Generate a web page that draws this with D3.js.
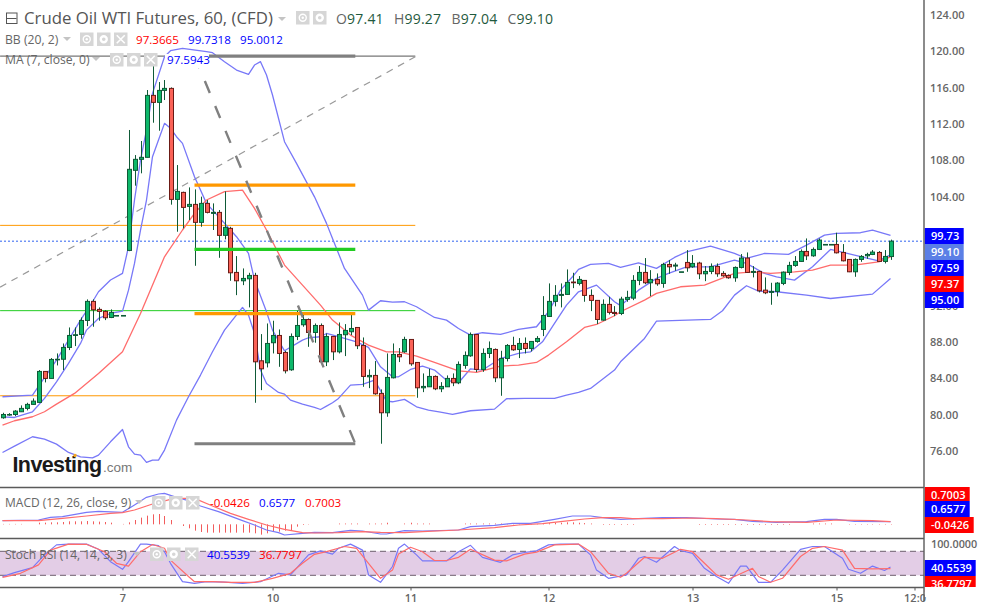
<!DOCTYPE html>
<html>
<head>
<meta charset="utf-8">
<script src="https://cdn.jsdelivr.net/npm/d3@7"></script>
<style>
  html, body { margin: 0; padding: 0; background: #fff; }
  svg { display: block; }
  text { font-family: "Open Sans", "Noto Sans", sans-serif; }
</style>
</head>
<body>
<div id="canvas"></div>
<script>
"use strict"

/* candles, one per hour */
const opens = [79.66,80.00,80.02,80.32,80.69,81.13,81.35,84.76,83.99,86.08,
86.10,87.40,88.72,88.83,90.37,92.47,91.59,91.37,90.70,90.92,
90.92,98.08,106.90,108.11,108.33,115.15,114.38,115.70,115.92,103.70,
104.47,102.93,103.15,101.17,103.26,102.16,102.27,99.74,100.51,95.66,
94.74,94.96,95.33,85.93,85.71,87.92,88.72,86.85,84.94,88.61,
89.90,90.48,89.05,89.82,85.82,88.61,86.92,88.80,89.13,89.60,
87.62,84.17,84.32,82.34,80.21,84.06,86.63,86.92,88.28,85.75,
82.96,83.07,84.21,82.85,83.07,83.99,83.51,85.42,86.48,88.83,
84.98,86.74,87.18,84.06,86.19,87.62,87.18,87.84,87.29,88.06,
89.38,90.81,92.47,93.13,93.24,94.60,94.45,94.78,93.13,92.58,
90.41,92.14,91.26,91.14,92.69,92.83,94.78,95.66,94.52,94.89,
94.45,96.54,96.36,95.73,96.76,96.28,96.69,95.51,95.77,96.32,
95.55,95.33,95.07,96.21,97.24,95.66,95.77,93.71,93.46,93.57,
94.45,95.66,96.43,96.87,97.97,97.49,98.19,98.74,98.74,98.74,
97.86,97.09,95.73,97.09,97.49,97.64,97.86,96.87,97.41];
const highs = [80.21,80.17,80.50,81.02,81.31,81.79,84.91,84.76,86.23,86.74,
87.84,89.60,89.60,90.70,92.69,92.69,91.81,91.51,91.59,90.92,
90.92,111.34,108.58,110.13,115.74,119.59,116.62,116.84,116.03,107.48,
104.55,105.02,104.80,104.00,103.63,103.26,102.53,104.58,100.68,97.46,
96.10,95.62,95.62,88.87,90.04,90.34,89.38,87.03,88.94,91.44,
91.14,90.59,90.04,90.04,88.94,88.61,90.15,89.97,91.14,89.60,
88.50,84.98,85.90,82.78,86.74,87.84,87.33,88.58,88.28,85.75,
84.54,85.05,84.32,83.58,84.32,84.54,85.86,86.96,89.05,88.83,
87.29,88.06,87.29,87.03,87.77,88.58,88.43,88.50,88.06,88.65,
93.05,94.45,94.26,94.45,95.99,95.62,95.26,94.78,93.79,92.58,
92.69,92.98,91.95,92.98,93.64,95.36,96.36,97.24,95.91,95.55,
96.72,97.02,96.72,95.73,98.12,97.57,96.83,96.36,96.65,96.65,
95.80,95.44,96.32,97.68,97.86,96.36,95.84,95.11,94.52,94.59,
95.77,96.83,97.46,98.19,99.40,98.41,99.40,98.74,98.74,100.03,
98.78,97.09,97.20,97.57,97.82,98.12,98.01,98.12,99.27];
const lows = [79.55,79.88,79.84,80.32,80.47,81.09,81.31,83.55,83.99,85.42,
84.91,87.11,87.55,88.36,89.75,89.68,90.34,90.41,90.63,90.92,
90.92,98.00,105.21,106.57,108.33,112.14,111.26,114.64,103.12,100.14,
100.51,101.43,96.39,100.69,102.16,100.33,97.27,99.30,94.74,93.16,
94.26,91.81,81.31,82.70,85.20,86.74,85.27,84.54,84.83,88.21,
89.68,87.47,87.92,85.57,85.35,86.01,86.74,86.45,88.76,87.22,
83.07,82.92,82.19,76.80,79.77,83.99,85.79,86.81,85.38,81.86,
82.48,83.07,82.70,82.48,83.07,83.14,83.36,85.05,86.37,84.69,
84.72,86.23,83.58,82.08,85.86,87.03,86.23,86.74,86.96,87.92,
88.65,90.78,91.92,91.81,93.20,93.93,94.23,92.43,91.40,89.97,
90.34,91.03,90.85,90.96,92.43,92.61,94.26,94.37,93.05,94.19,
93.97,95.51,95.84,95.73,95.73,96.17,94.92,94.70,95.47,95.18,
95.18,94.96,94.63,96.10,95.62,95.11,93.46,93.27,92.10,93.02,
94.26,95.36,96.28,96.83,97.02,97.38,98.12,98.74,98.74,97.75,
96.87,95.69,95.18,96.83,97.16,97.57,96.80,96.65,97.04];
const closes = [80.02,80.02,80.39,80.69,81.13,81.49,84.76,83.99,86.08,86.10,
87.40,88.72,88.80,90.37,92.47,91.55,91.37,90.67,91.26,90.92,
90.92,107.01,108.11,108.33,115.15,114.38,115.70,115.92,103.70,104.58,
102.82,103.15,101.17,103.26,102.27,102.27,99.74,100.62,95.62,94.74,
95.00,95.33,85.82,85.05,87.84,88.72,86.74,84.83,88.61,89.82,
90.48,89.05,89.82,85.82,88.61,86.92,88.83,89.27,89.49,87.59,
84.21,84.32,82.30,80.21,84.10,86.63,86.37,88.28,85.60,82.96,
83.11,84.21,82.85,83.11,83.99,83.51,85.53,86.52,88.83,84.98,
86.74,87.29,84.06,86.19,87.62,87.14,87.84,87.29,88.06,88.39,
90.92,92.47,93.13,93.24,94.56,94.52,94.89,93.13,92.58,90.48,
92.14,91.26,91.14,92.72,92.91,94.78,95.66,94.52,94.89,94.41,
96.54,96.28,96.47,95.73,96.17,96.65,95.51,95.77,96.32,95.51,
95.29,95.07,96.21,97.24,95.66,95.77,93.64,93.42,93.57,94.48,
95.69,96.43,96.87,97.97,97.49,98.19,99.22,98.74,98.74,97.82,
96.94,95.73,97.09,97.42,97.64,97.90,96.87,97.42,99.10];

/* bollinger upper, read at the candle numbers in upperIdx */
const upperIdx = [0,5,9,13,15,16,18,20,21,22,23,24,25,27,28,30,34,35,37,39,41,42,43,44,45,47,49,52,54,55,57,60,61,63,65,67,69,72,74,76,78,80,83,86,89,91,93,95,96,98,101,103,106,109,112,114,118,122,124,127,131,134,137,139,143,145,148];
const upperVal = [81.97,82.15,86.0,90.41,92.43,93.53,94.82,95.55,98.49,103.63,108.03,111.34,115.37,119.41,120.07,120.33,119.96,119.85,118.86,117.94,117.47,118.49,118.86,117.39,115.19,110.05,107.67,103.98,101.06,99.40,96.10,93.16,91.51,92.54,92.39,92.43,91.88,90.70,90.41,89.49,88.76,89.02,88.83,89.38,89.68,91.33,93.71,95.18,95.99,96.54,96.65,96.21,96.72,96.10,97.31,97.93,98.56,97.75,97.20,97.75,97.64,98.67,99.77,99.95,100.03,100.32,99.73];

/* bollinger lower */
const lowerIdx = [0,2,5,7,9,11,13,15,16,18,20,21,22,23,24,25,26,27,29,31,33,35,37,40,41,42,43,44,46,47,48,50,52,53,54,55,56,58,60,62,64,65,67,69,71,73,75,78,82,84,87,92,94,96,98,100,102,103,107,109,118,120,122,124,126,129,134,138,145,148];
const lowerVal = [75.84,76.54,77.57,77.31,76.76,75.84,75.36,75.25,75.55,77.01,78.37,76.46,75.66,75.55,74.74,75.0,75.0,76.10,79.40,81.97,84.36,86.92,89.31,91.81,90.96,88.94,84.91,83.44,82.45,82.26,81.60,81.16,80.80,80.57,80.94,81.31,81.79,83.25,83.33,83.80,81.49,81.42,81.68,80.87,80.50,80.28,80.03,80.43,80.61,81.75,81.79,81.79,82.15,82.45,82.89,83.91,84.91,85.82,88.39,90.30,90.48,91.44,93.16,94.19,93.60,93.53,93.16,92.79,93.27,95.0];

/* bollinger basis, the red line */
const basisIdx = [0,2,5,7,9,12,16,20,23,27,30,32,34,37,40,42,44,47,50,53,55,58,61,64,66,69,72,76,79,83,86,89,91,94,97,99,102,103,107,109,113,117,122,125,128,132,135,138,142,146,148];
const basisVal = [78.85,79.33,79.77,80.32,81.16,82.34,84.54,86.92,91.14,97.38,100.33,102.16,103.63,104.55,104.73,102.71,100.33,96.47,94.26,92.06,90.41,88.76,87.66,86.92,86.92,86.45,85.75,84.83,84.65,85.35,85.46,85.75,86.56,88.02,89.60,89.93,90.89,91.33,92.61,93.35,94.08,94.26,95.55,95.73,95.55,95.73,95.92,96.47,96.47,96.83,97.37];

/* MA 7, the middle blue line */
const maIdx = [0,2,5,7,9,11,13,14,16,18,20,21,22,23,24,25,26,27,28,29,30,32,34,36,38,39,41,42,44,45,47,50,51,53,54,56,59,61,63,65,66,68,70,72,74,76,78,80,83,86,88,90,92,94,96,99,102,103,106,109,111,114,118,122,124,127,129,132,135,138,142,146,148];
const maVal = [79.76,79.69,80.32,81.79,83.62,85.64,87.84,89.31,90.59,91.14,91.40,93.71,96.65,100.32,103.63,108.40,110.24,112.07,111.52,110.60,109.87,106.20,103.26,101.80,100.33,99.59,97.75,94.82,91.33,89.31,87.03,88.21,88.47,88.58,88.94,88.58,88.02,87.40,85.27,84.17,84.17,84.98,85.35,84.91,83.80,83.51,85.05,84.91,86.19,86.74,86.92,88.02,90.04,92.06,93.53,94.26,92.43,92.0,93.71,95.0,95.55,96.28,96.28,97.02,96.65,95.55,95.18,94.81,96.28,98.19,97.57,96.94,97.59];

/* MACD pane */
const macdIdx = [0,6,8,10,14,16,20,22,24,26,27,29,31,33,36,40,42,44,46,47,50,52,55,58,60,63,64,67,70,76,78,82,85,88,92,95,98,100,103,106,110,114,119,122,125,129,134,137,139,142,148];
const macdVal = [.92,1.08,1.75,1.92,3.0,3.25,3.0,4.83,6.75,7.58,7.75,6.75,5.92,4.58,3.17,.92,-.17,-1.42,-2.08,-2.67,-2.25,-2,-2.08,-1.5,-1.67,-2.42,-2.42,-1.58,-1.67,-1.42,-.58,-.25,.25,.25,1.25,2.08,2.08,1.67,1.25,1.42,1.67,1.67,1.33,1.25,.75,.5,.67,1.25,1.25,.75,.66];
const signalIdx = [0,6,10,14,18,20,22,25,28,30,32,35,38,41,44,47,50,52,56,60,63,67,70,76,82,86,90,93,97,100,103,105,110,115,119,124,128,134,139,145,148];
const signalVal = [.92,.92,1.5,2.08,2.75,2.92,3.58,5.08,6.25,6.5,6.5,4.58,2.75,1.25,-.17,-1.25,-2.08,-2.17,-2.08,-1.83,-2,-2.08,-1.83,-1.42,-.83,-.17,.17,.67,1.33,1.67,1.67,1.42,1.42,1.58,1.42,1.08,.67,.5,1.08,.92,.70];
const histVal = [.1,.1,.1,.1,0,0,.42,.42,.5,.5,.58,.75,.75,.75,.83,.75,.67,.58,.42,0,
.1,.5,1.08,1.67,2.17,2.5,2.58,2.08,1.08,0,
-.42,-1,-1.58,-1.92,-2.08,-2.08,-2.08,-2.08,-2.08,-2.08,-2.08,-2.08,-2.25,-2.58,-2.25,-1.92,-1.83,-1.58,-1.42,-.58,-.17,-.08,
0,0,0,0,.2,.2,.2,.2,0,.2,.2,.2,.4,0,0,.2,.4,.2,.2,.2,0,0,0,0,0,
.2,.2,.2,.2,.2,.2,.2,.1,.1,.1,.1,.1,.1,
.25,.3,.4,.4,.5,.5,.4,.3,.2,0,
-.15,-.15,-.15,-.15,-.15,-.15,0,0,0,0,0,0,0,0,0,0,
-.15,-.15,-.15,-.15,-.15,-.15,-.15,-.15,-.15,-.15,-.15,-.15,-.15,-.15,-.15,-.15,
0,0,0,.2,.2,.2,.2,0,0,-.1,-.1,-.1,-.1,-.1,-.1,-.1,-.1];

/* stochastic RSI pane */
const stochKIdx = [0,2,5,7,9,11,14,16,18,20,21,23,24,26,27,28,30,32,34,37,40,43,46,48,51,53,55,56,58,60,61,63,65,66,67,69,70,74,76,78,80,83,85,87,89,91,93,96,98,99,101,104,106,107,109,112,113,115,117,119,121,123,124,126,128,130,133,135,137,140,141,143,145,147,148];
const stochKVal = [16.7,26.7,39,71,96,98,98,85,54,35,54,98,98,94,79,50,4,0,4,3,0,4,25,21,71,81,73,87.5,98,83,21,2.5,42,87.5,98,71,56,56,79,95,65,52.5,71,77,81,96,98,98,71,33,12.5,21,62.5,67,52.5,92,82,75,37.5,17,0,43,43,2.5,2.5,33,85,92,92,62.5,35,25,43,32,40.55];
const stochDIdx = [0,3,6,8,11,14,17,19,21,23,25,27,28,31,32,35,38,42,45,48,50,52,54,57,59,61,63,65,66,68,70,72,74,76,78,82,84,87,89,92,96,98,101,103,104,107,110,113,115,117,119,121,125,126,128,130,133,135,137,140,142,145,148];
const stochDVal = [15,25,46,83,98,97.5,79,50,43,79,97,87.5,58,17,4,4,2.5,2.5,12.5,25,50,72.5,79,92,87.5,50,12.5,33,73,90,79,57,57,65,85,58,56,73,78,96,98,79,25,15,25,65,62.5,85,79,50,21,10,37.5,17,2.5,12.5,67,87.5,92,83,37.5,36,36.78];

/* levels and drawings on the price pane */
const priceTicks = [124,120,116,112,108,104,92,88,84,80,76];
const thinLevels = [{p: 100.84, c: "#ff9800", w: 1}, {p: 91.45, c: "#22cc22", w: 1}, {p: 82.08, c: "#ff9800", w: 1}, {p: 119.48, c: "#777", w: 1.2}];
const fibLevels = [{p: 119.48, c: "#808080"}, {p: 105.28, c: "#ff9800"}, {p: 98.2, c: "#22cc22"}, {p: 91.12, c: "#ff9800"}, {p: 76.8, c: "#808080"}];
const trendStart = [-0.4, 94.04], trendEnd = [68.8, 119.4];
const fibDiagStart = [32, 119.48], fibDiagEnd = [58.8, 76.8];
const fibFrom = 32, fibTo = 58.8, thinTo = 68.8, thinFrom = -0.4;
const lastPrice = 99.1;

/* time axis */
const timeIdx = [20, 45, 68, 91, 115, 139, 152];
const timeLabels = ["7", "10", "11", "12", "13", "15", "12:0"];

const svg = d3.select("#canvas").append("svg").attr("width", 981).attr("height", 604);

const x = d3.scaleLinear().domain([0, 148]).range([2.5, 890.5]);
const y = d3.scaleLinear().domain([124, 76]).range([15, 451]);
const yMacd = d3.scaleLinear().domain([0, 7.75]).range([524.33, 493.33]);
const yStoch = d3.scaleLinear().domain([0, 100]).range([583.3, 543.3]);

const AXIS_X = 924;
const BLUE_LINE = "#7878f8", RED_LINE = "#ff6c6c";

function drawLine(idx, vals, scale, color, width) {
    let line = d3.line().x((d, i) => x(idx[i])).y(d => scale(d));
    svg.append("path").datum(vals)
        .attr("d", line)
        .attr("fill", "none")
        .attr("stroke", color)
        .attr("stroke-width", width)
        .attr("stroke-linejoin", "round");
}

function hLine(x1, x2, yy, color, width, dash) {
    svg.append("line")
        .attr("x1", x1).attr("x2", x2)
        .attr("y1", yy).attr("y2", yy)
        .attr("stroke", color)
        .attr("stroke-width", width)
        .attr("stroke-dasharray", dash || null);
}

function label(txt, px, py, size, color, weight) {
    return svg.append("text")
        .attr("x", px).attr("y", py)
        .attr("font-size", size)
        .attr("fill", color)
        .attr("font-weight", weight || 400)
        .text(txt);
}

/* letter in grey, number in dark green, as in the O H L C row */
function ohlc(letter, value, px) {
    let t = svg.append("text").attr("x", px).attr("y", 24).attr("font-size", 14).attr("letter-spacing", 0.2);
    t.append("tspan").attr("fill", "#666").text(letter);
    t.append("tspan").attr("fill", "#1f5a3e").text(value);
}

function triangle(px, py) {
    svg.append("path")
        .attr("d", `M${px},${py}h8l-4,4z`)
        .attr("fill", "#c4c4c4");
}

/* the grey eye, gear and cross buttons of each legend row */
function button(px, py, kind) {
    let s = 13.5;
    svg.append("rect").attr("x", px).attr("y", py).attr("width", s).attr("height", s).attr("fill", "#d6d6d6");
    let cx = px + s / 2, cy = py + s / 2;
    if (kind == "eye") {
        svg.append("circle").attr("cx", cx).attr("cy", cy).attr("r", 3.5).attr("fill", "none").attr("stroke", "#fff").attr("stroke-width", 1.4);
        svg.append("circle").attr("cx", cx).attr("cy", cy).attr("r", 1.2).attr("fill", "#fff");
    } else if (kind == "gear") {
        svg.append("circle").attr("cx", cx).attr("cy", cy).attr("r", 3).attr("fill", "none").attr("stroke", "#fff").attr("stroke-width", 2.4);
    } else {
        svg.append("path").attr("d", `M${cx-4},${cy-4}L${cx+4},${cy+4}M${cx+4},${cy-4}L${cx-4},${cy+4}`).attr("stroke", "#fff").attr("stroke-width", 1.6);
    }
}

/* stoch band goes under everything */
svg.append("rect")
    .attr("x", 0).attr("width", AXIS_X)
    .attr("y", yStoch(80)).attr("height", yStoch(20) - yStoch(80))
    .attr("fill", "#e3cde6");

/* thin levels */
thinLevels.forEach(d => {
    hLine(x(thinFrom), x(thinTo), y(d.p), d.c, d.w);
});
hLine(0, AXIS_X, y(lastPrice), "#2f62f0", 1, "2,2");
svg.append("line")
    .attr("x1", x(trendStart[0])).attr("y1", y(trendStart[1]))
    .attr("x2", x(trendEnd[0])).attr("y2", y(trendEnd[1]))
    .attr("stroke", "#999").attr("stroke-width", 1.2).attr("stroke-dasharray", "7,6");

/* bands */
drawLine(upperIdx, upperVal, y, BLUE_LINE, 1.3);
drawLine(lowerIdx, lowerVal, y, BLUE_LINE, 1.3);
drawLine(maIdx, maVal, y, BLUE_LINE, 1.3);
drawLine(basisIdx, basisVal, y, RED_LINE, 1.3);

/* candles */
let candles = svg.append("g");
candles.selectAll("line").data(closes).join("line")
    .attr("x1", (d, i) => Math.round(x(i)) + 0.5)
    .attr("x2", (d, i) => Math.round(x(i)) + 0.5)
    .attr("y1", (d, i) => y(highs[i]))
    .attr("y2", (d, i) => y(lows[i]))
    .attr("stroke", "#0f5a37").attr("stroke-width", 1);
candles.selectAll("rect").data(closes).join("rect")
    .attr("x", (d, i) => Math.round(x(i)) - 1.5)
    .attr("width", 4)
    .attr("y", (d, i) => y(Math.max(d, opens[i])))
    .attr("height", (d, i) => Math.max(0.6, Math.abs(y(d) - y(opens[i]))))
    .attr("fill", (d, i) => d >= opens[i] ? "#0db86a" : "#fb6257")
    .attr("stroke", (d, i) => d >= opens[i] ? "#0f5a37" : "#6b1a15")
    .attr("stroke-width", 1);

/* fib drawing on top of the candles */
fibLevels.forEach(d => {
    hLine(x(fibFrom), x(fibTo), y(d.p), d.c, 3.2);
});
svg.append("line")
    .attr("x1", x(fibDiagStart[0])).attr("y1", y(fibDiagStart[1]))
    .attr("x2", x(fibDiagEnd[0])).attr("y2", y(fibDiagEnd[1]))
    .attr("stroke", "#808080").attr("stroke-width", 2.4).attr("stroke-dasharray", "13,14");

/* MACD */
svg.append("g").selectAll("line").data(histVal).join("line")
    .attr("x1", (d, i) => Math.round(x(i)) + 0.5)
    .attr("x2", (d, i) => Math.round(x(i)) + 0.5)
    .attr("y1", yMacd(0))
    .attr("y2", d => yMacd(d))
    .attr("stroke", "#f25c5c").attr("stroke-width", 1)
    .attr("display", d => d == 0 ? "none" : null);
drawLine(macdIdx, macdVal, yMacd, BLUE_LINE, 1.2);
drawLine(signalIdx, signalVal, yMacd, RED_LINE, 1.2);

/* stoch */
hLine(0, AXIS_X, yStoch(80), "#6d5f6d", 1, "6,4");
hLine(0, AXIS_X, yStoch(20), "#6d5f6d", 1, "6,4");
drawLine(stochKIdx, stochKVal, yStoch, BLUE_LINE, 1.2);
drawLine(stochDIdx, stochDVal, yStoch, RED_LINE, 1.2);

/* axes */
let yAxis = svg.append("g")
    .attr("transform", `translate(${AXIS_X},0)`)
    .call(d3.axisRight(y).tickValues(priceTicks).tickFormat(d3.format(".2f")).tickSize(0).tickPadding(6));
yAxis.select(".domain").remove();
yAxis.selectAll("text").attr("font-size", 11).attr("font-weight", 600).attr("fill", "#666").style("font-family", '"Open Sans", sans-serif');

let xTime = d3.scaleOrdinal().domain(timeIdx).range(timeLabels);
let xAxis = svg.append("g")
    .attr("transform", "translate(0,587.5)")
    .call(d3.axisBottom(x).tickValues(timeIdx).tickFormat(d => xTime(d)).tickSize(3).tickPadding(2));
xAxis.select(".domain").remove();
xAxis.selectAll("line").attr("stroke", "#5a5a5a");
xAxis.selectAll("text").attr("font-size", 11).attr("font-weight", 600).attr("fill", "#666").attr("dy", "0.9em").style("font-family", '"Open Sans", sans-serif');

/* price tags on the right */
const tags = [
    {t: "99.73", y: 228, h: 16, w: 39, c: "#0000ff"},
    {t: "99.10", y: 244, h: 16, w: 39, c: "#5b7fe6"},
    {t: "97.59", y: 260, h: 16, w: 39, c: "#0000ff"},
    {t: "97.37", y: 276, h: 16, w: 39, c: "#ff0000"},
    {t: "95.00", y: 292, h: 16, w: 39, c: "#0000ff"},
    {t: "0.7003", y: 487, h: 14, w: 45, c: "#ff0000"},
    {t: "0.6577", y: 501, h: 16, w: 45, c: "#0000ff"},
    {t: "-0.0426", y: 517, h: 16, w: 49, c: "#ff0000"},
    {t: "40.5539", y: 560, h: 16, w: 51, c: "#0000ff"},
    {t: "36.7797", y: 576, h: 16, w: 51, c: "#ff0000"}
];
tags.forEach(d => {
    svg.append("rect").attr("x", AXIS_X + 0.7).attr("y", d.y).attr("width", d.w).attr("height", d.h).attr("fill", d.c);
    label(d.t, AXIS_X + 7, d.y + 12, 11, "#fff", 600);
});
label("100.0000", AXIS_X + 7, 548, 10.8, "#666", 600);
svg.append("rect").attr("x", AXIS_X + 0.7).attr("y", 587).attr("width", 56).attr("height", 10).attr("fill", "#fff");

/* pane frames, over the tags so the bottom tag looks cut */
hLine(0, AXIS_X, 487.5, "#5a5a5a", 1.4);
hLine(0, AXIS_X, 538.5, "#5a5a5a", 1.4);
hLine(0, AXIS_X, 587.5, "#5a5a5a", 1.4);
svg.append("line").attr("x1", AXIS_X).attr("x2", AXIS_X).attr("y1", 0).attr("y2", 601).attr("stroke", "#5a5a5a").attr("stroke-width", 1.4);

/* header */
svg.append("rect").attr("x", 6.5).attr("y", 13).attr("width", 10.5).attr("height", 10.5).attr("fill", "none").attr("stroke", "#555");
hLine(7, 16.5, 18.5, "#555", 1);
label("Crude Oil WTI Futures, 60, (CFD)", 24, 24, 16.8, "#555", 400);
triangle(278, 17);
button(296, 11, "eye");
button(313, 11, "gear");
ohlc("O", "97.41", 336);
ohlc("H", "99.27", 394);
ohlc("B", "97.04", 451.5);
ohlc("C", "99.10", 507.5);

label("BB (20, 2)", 5, 44, 12.2, "#666");
triangle(63, 37);
button(80, 32.5, "eye"); button(97, 32.5, "gear"); button(114, 32.5, "x");
label("97.3665", 136, 44, 11.6, "#ff0000");
label("99.7318", 188, 44, 11.6, "#0000ff");
label("95.0012", 240, 44, 11.6, "#0000ff");

label("MA (7, close, 0)", 5, 64, 12.2, "#666");
triangle(92, 57);
button(110, 53, "eye"); button(127, 53, "gear"); button(144, 53, "x");
svg.append("rect").attr("x", 165).attr("y", 54).attr("width", 44).attr("height", 14).attr("fill", "#fff");
label("97.5943", 167, 64, 11.6, "#0000ff");

label("MACD (12, 26, close, 9)", 5, 507, 12, "#666");
triangle(135, 500);
button(152, 496, "eye"); button(169, 496, "gear"); button(186, 496, "x");
label("-0.0426", 210, 507, 11.6, "#ff0000");
label("0.6577", 259, 507, 11.6, "#0000ff");
label("0.7003", 305, 507, 11.6, "#ff0000");

label("Stoch RSI (14, 14, 3, 3)", 5, 559, 12, "#666");
triangle(133, 552);
button(150, 547.5, "eye"); button(167, 547.5, "gear"); button(185, 547.5, "x");
label("40.5539", 207, 559, 11.6, "#0000ff");
label("36.7797", 259, 559, 11.6, "#ff0000");

/* logo */
svg.append("text").attr("x", 12.5).attr("y", 472)
    .attr("font-size", 21.5).attr("font-weight", 700).attr("fill", "#1a1a1a").attr("letter-spacing", -0.6)
    .style("font-family", '"Liberation Sans", sans-serif').text("Investing");
svg.append("text").attr("x", 103).attr("y", 472)
    .attr("font-size", 13.5).attr("fill", "#777")
    .style("font-family", '"Liberation Sans", sans-serif').text(".com");
svg.append("circle").attr("cx", 75).attr("cy", 455.5).attr("r", 1.7).attr("fill", "#f5a623");
</script>
</body>
</html>
